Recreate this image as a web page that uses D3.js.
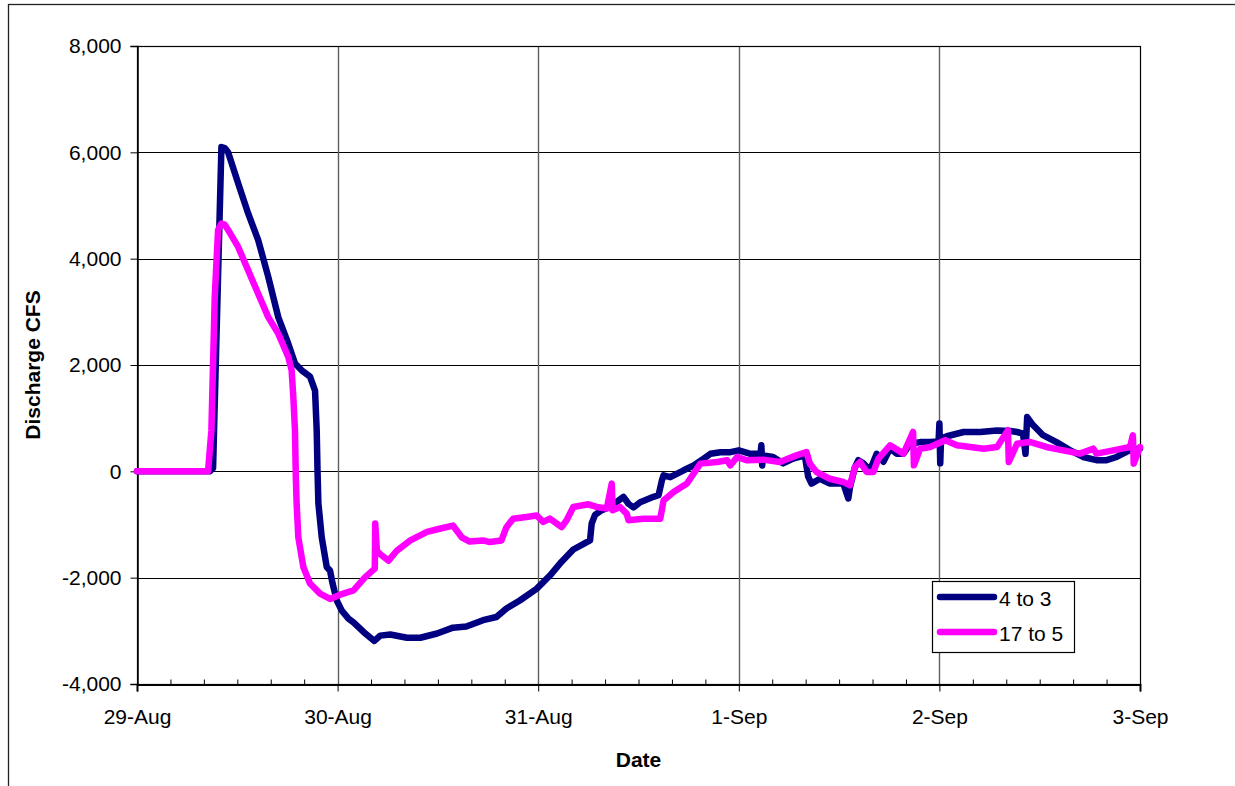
<!DOCTYPE html>
<html>
<head>
<meta charset="utf-8">
<script src="https://cdn.jsdelivr.net/npm/d3@7"></script>
<style>
  html, body { margin: 0; padding: 0; background: #fff; }
  svg { display: block; }
  text { font-family: "Liberation Sans", Arial, sans-serif; fill: #000; }
</style>
</head>
<body>
<div id="chart"></div>
<script>
// ---- Data (hours since 29-Aug 00:00, discharge in CFS) ----
const startDate = new Date(2005, 7, 29);
const endDate = new Date(2005, 8, 3);
const yTickValues = [-4000, -2000, 0, 2000, 4000, 6000, 8000];
const seriesNames = ["4 to 3", "17 to 5"];
const seriesColors = ["#000080", "#FF00FF"];

const hours4to3 = [0, 8.7, 9.1, 10.1, 10.5, 10.9, 12.1, 13.3, 14.5, 15.7, 16.9, 18.1, 18.9, 19.7, 20.7, 21.3, 21.5, 21.6, 21.7, 22.1, 22.7, 23.1, 23.4, 23.9, 24.5, 25.3, 25.9, 27.1, 28.4, 29.1, 30.3, 32.3, 33.9, 35.9, 37.8, 39.4, 41.4, 43.0, 44.2, 45.8, 47.8, 49.4, 50.8, 52.2, 53.6, 54.2, 54.4, 54.8, 55.6, 56.6, 57.6, 58.2, 58.8, 59.4, 60.2, 61.8, 62.4, 62.8, 63.0, 63.8, 65.4, 66.6, 67.8, 68.6, 69.8, 71.0, 72.0, 73.4, 74.6, 74.7, 74.8, 74.9, 76.1, 77.3, 78.5, 79.9, 80.3, 80.7, 81.7, 82.9, 84.5, 85.1, 85.3, 85.9, 86.3, 86.9, 87.7, 88.5, 89.3, 90.1, 90.9, 91.7, 92.5, 93.7, 94.9, 95.9, 96.0, 96.1, 96.2, 96.9, 98.9, 100.9, 102.9, 104.5, 105.3, 106.0, 106.3, 106.5, 107.2, 108.4, 110.0, 111.6, 113.2, 114.8, 116.0, 117.2, 118.8, 120];
const values4to3 = [0, 0, 60, 6100, 6080, 6000, 5420, 4850, 4350, 3660, 2900, 2400, 2030, 1900, 1780, 1520, 770, 0, -600, -1240, -1800, -1870, -2110, -2430, -2620, -2770, -2840, -3020, -3190, -3090, -3070, -3130, -3130, -3050, -2940, -2920, -2800, -2740, -2580, -2430, -2210, -1960, -1700, -1470, -1350, -1300, -980, -820, -730, -670, -550, -480, -610, -680, -580, -480, -450, -170, -75, -110, 20, 110, 240, 330, 360, 360, 395, 330, 330, 490, 110, 300, 270, 150, 240, 300, -100, -230, -140, -230, -230, -510, -300, 80, 210, 150, 20, 330, 180, 430, 330, 330, 520, 550, 550, 560, 900, 150, 620, 660, 740, 740, 770, 760, 740, 710, 330, 1020, 870, 680, 550, 400, 270, 210, 210, 270, 400, 430];

const hours17to5 = [0, 8.5, 8.9, 9.3, 9.7, 10.1, 10.5, 10.9, 12.1, 13.3, 14.5, 15.7, 16.9, 18.1, 18.5, 18.7, 18.9, 19.0, 19.1, 19.3, 19.9, 20.7, 21.9, 23.1, 24.3, 25.9, 27.3, 28.45, 28.5, 28.7, 29.1, 30.1, 31.1, 32.7, 34.7, 36.2, 37.8, 38.85, 39.8, 41.4, 42.2, 43.6, 44.2, 45.0, 46.6, 47.8, 48.6, 49.4, 50.8, 51.4, 52.2, 54.0, 55.0, 56.2, 56.8, 56.9, 57.8, 58.6, 58.8, 60.6, 62.6, 63.0, 64.2, 65.8, 67.4, 69.4, 70.6, 71.0, 71.8, 73.0, 74.9, 76.9, 78.9, 80.1, 80.5, 81.3, 82.9, 84.5, 85.3, 85.9, 86.5, 87.3, 88.1, 88.7, 90.1, 91.7, 92.85, 92.95, 93.7, 94.9, 96.7, 98.1, 101.3, 102.9, 104.2, 104.3, 105.3, 106.8, 108.8, 110.8, 112.8, 114.4, 114.8, 116.8, 118.8, 119.15, 119.25, 120];
const values17to5 = [0, 0, 770, 3280, 4540, 4660, 4640, 4540, 4220, 3780, 3340, 2900, 2590, 2150, 1900, 1400, 770, -100, -610, -1240, -1800, -2110, -2300, -2400, -2320, -2240, -1990, -1830, -980, -1490, -1560, -1680, -1490, -1300, -1140, -1080, -1020, -1240, -1320, -1300, -1330, -1300, -1050, -890, -860, -830, -950, -890, -1050, -920, -670, -620, -670, -700, -230, -730, -670, -800, -920, -890, -890, -550, -390, -230, 145, 176, 207, 113, 270, 207, 220, 176, 300, 363, 145, -13, -140, -200, -263, 82, 176, -13, -13, 240, 490, 333, 740, 113, 426, 458, 583, 489, 426, 458, 772, 176, 520, 552, 458, 395, 333, 426, 333, 395, 458, 678, 145, 458];

// ---- Layout ----
const W = 1235, H = 786;
const plot = { left: 137, right: 1140, top: 46, bottom: 684 };
const FONT = 21;

const svg = d3.select("#chart").append("svg")
  .attr("width", W).attr("height", H);

svg.append("rect").attr("width", W).attr("height", H).attr("fill", "#fff");

// outer chart-area frame
svg.append("rect")
  .attr("x", 8.5).attr("y", 4.5)
  .attr("width", 1400).attr("height", 1000)
  .attr("fill", "none").attr("stroke", "#222").attr("stroke-width", 1.3);

const toDate = h => new Date(startDate.getTime() + h * 3600e3);

const x = d3.scaleTime().domain([startDate, endDate]).range([plot.left, plot.right]);
const y = d3.scaleLinear().domain([-4000, 8000]).range([plot.bottom, plot.top]);

const dayTicks = d3.timeDay.range(startDate, d3.timeDay.offset(endDate, 1));
const minorTicks = d3.timeHour.every(4).range(startDate, endDate).filter(d => d.getHours() !== 0);

// gridlines
const grid = svg.append("g");
grid.selectAll("line.h").data(yTickValues.filter(v => v > -4000 && v < 8000)).join("line")
  .attr("x1", plot.left).attr("x2", plot.right)
  .attr("y1", d => Math.round(y(d)) + 0.5).attr("y2", d => Math.round(y(d)) + 0.5)
  .attr("stroke", "#000").attr("stroke-width", 1);
grid.selectAll("line.v").data(dayTicks.filter(d => d > startDate && d < endDate)).join("line")
  .attr("x1", d => Math.round(x(d)) + 0.5).attr("x2", d => Math.round(x(d)) + 0.5)
  .attr("y1", plot.top).attr("y2", plot.bottom)
  .attr("stroke", "#5e5e5e").attr("stroke-width", 1.4);

// plot border
svg.append("rect")
  .attr("x", plot.left + 0.5).attr("y", plot.top + 0.5)
  .attr("width", plot.right - plot.left).attr("height", plot.bottom - plot.top)
  .attr("fill", "none").attr("stroke", "#000").attr("stroke-width", 1.2);

// y axis (hyphen-minus like the original)
const fmt = d3.format(",");
const yAxis = d3.axisLeft(y).tickValues(yTickValues).tickSize(7).tickPadding(9)
  .tickFormat(d => fmt(d).replace("\u2212", "-"));
const gy = svg.append("g").attr("transform", `translate(${plot.left + 0.5},0)`).call(yAxis);
gy.select(".domain").attr("stroke", "#000").attr("stroke-width", 1.5);
gy.selectAll(".tick line").attr("stroke", "#000");
gy.selectAll(".tick text").attr("font-size", FONT).attr("font-family", "Liberation Sans, Arial, sans-serif").attr("fill", "#000");

// x axis major
const xAxis = d3.axisBottom(x).tickValues(dayTicks).tickSize(7).tickPadding(18)
  .tickFormat(d3.timeFormat("%-d-%b"));
const gx = svg.append("g").attr("transform", `translate(0,${plot.bottom + 0.5})`).call(xAxis);
gx.select(".domain").attr("stroke", "#000").attr("stroke-width", 2);
gx.selectAll(".tick line").attr("stroke", "#000");
gx.selectAll(".tick text").attr("font-size", FONT).attr("font-family", "Liberation Sans, Arial, sans-serif").attr("fill", "#000");

// x axis minor (inside)
const xMinor = d3.axisTop(x).tickValues(minorTicks).tickSize(5).tickFormat("");
const gxm = svg.append("g").attr("transform", `translate(0,${plot.bottom + 0.5})`).call(xMinor);
gxm.select(".domain").remove();
gxm.selectAll(".tick line").attr("stroke", "#000");

// lines
const line = d3.line().x(d => x(d[0])).y(d => y(d[1])).curve(d3.curveLinear);
const seriesData = [
  d3.zip(hours4to3.map(toDate), values4to3),
  d3.zip(hours17to5.map(toDate), values17to5)
];
svg.append("g").selectAll("path").data(seriesData).join("path")
  .attr("d", line)
  .attr("fill", "none")
  .attr("stroke", (d, i) => seriesColors[i])
  .attr("stroke-width", 6.5)
  .attr("stroke-linejoin", "round")
  .attr("stroke-linecap", "round");

// axis titles
svg.append("text")
  .attr("x", (plot.left + plot.right) / 2).attr("y", 767)
  .attr("text-anchor", "middle").attr("font-size", FONT).attr("font-weight", "bold")
  .text("Date");
svg.append("text")
  .attr("transform", `translate(40,${(plot.top + plot.bottom) / 2}) rotate(-90)`)
  .attr("text-anchor", "middle").attr("font-size", FONT).attr("font-weight", "bold")
  .text("Discharge CFS");

// legend
const legend = svg.append("g");
legend.append("rect")
  .attr("x", 932.5).attr("y", 581.5).attr("width", 142).attr("height", 71)
  .attr("fill", "#fff").attr("stroke", "#000").attr("stroke-width", 1.2);
const legendRows = [597, 632];
seriesNames.forEach((name, i) => {
  legend.append("line")
    .attr("x1", 940).attr("x2", 994)
    .attr("y1", legendRows[i]).attr("y2", legendRows[i])
    .attr("stroke", seriesColors[i]).attr("stroke-width", 6.5).attr("stroke-linecap", "round");
  legend.append("text")
    .attr("x", 999).attr("y", legendRows[i] + 9)
    .attr("font-size", FONT)
    .text(name);
});
</script>
</body>
</html>
